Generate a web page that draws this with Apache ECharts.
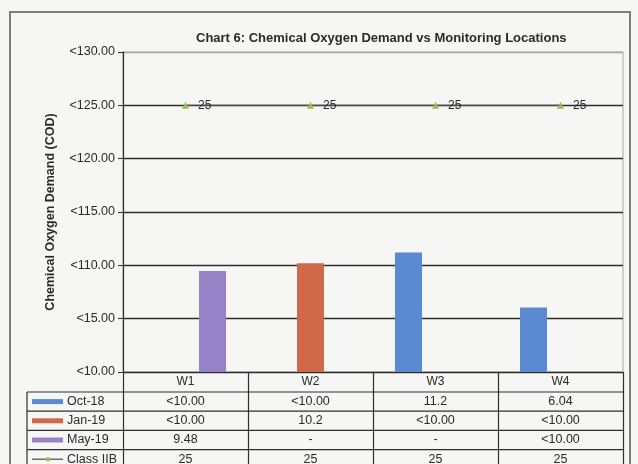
<!DOCTYPE html>
<html>
<head>
<meta charset="utf-8">
<script src="https://cdn.jsdelivr.net/npm/echarts@6/dist/echarts.min.js"></script>
<style>
html,body{margin:0;padding:0;background:#f6f6f4;}
#chart{width:638px;height:464px;}
</style>
</head>
<body>
<div id="chart"></div>
<script>
// ---- data ----
const titleText = 'Chart 6: Chemical Oxygen Demand vs Monitoring Locations';
const yAxisName = 'Chemical Oxygen Demand (COD)';
const categories = ['W1', 'W2', 'W3', 'W4'];
const seriesNames = ['Oct-18', 'Jan-19', 'May-19', 'Class IIB'];
const oct18 = ['<10.00', '<10.00', '11.2', '6.04'];
const jan19 = ['<10.00', '10.2', '<10.00', '<10.00'];
const may19 = ['9.48', '-', '-', '<10.00'];
const classIIB = [25, 25, 25, 25];
const yMin = 0, yMax = 30, yStep = 5;
const yLabelPrefix = '<1';

// ---- styles ----
const FONT = '"Liberation Sans", Arial, sans-serif';
const TXT = '#2a2a2a';
const colors = ['#5b8ad3', '#d0694a', '#9682c6'];
const lineColor = '#4a4a40';
const markerColor = '#9bbb59';

const toNum = s => (typeof s === 'number') ? s : (/^[<\-]/.test(s.trim()) ? null : parseFloat(s));

const chart = echarts.init(document.getElementById('chart'), null, {renderer: 'canvas'});

const barSeries = [oct18, jan19, may19].map((arr, i) => ({
  name: seriesNames[i],
  type: 'bar',
  data: arr.map(toNum),
  barWidth: 27,
  barGap: '0%',
  itemStyle: {color: colors[i]},
  z: 3
}));

const option = {
  backgroundColor: '#f6f6f4',
  animation: false,
  title: {
    text: titleText,
    left: 191, top: 27,
    textStyle: {fontFamily: FONT, fontSize: 13, fontWeight: 'bold', color: TXT}
  },
  grid: {
    left: 123, right: 15, top: 52, bottom: 92,
    show: true, borderColor: '#a8a8a8', borderWidth: 1, backgroundColor: 'transparent'
  },
  xAxis: {
    type: 'category',
    data: categories,
    axisLine: {lineStyle: {color: '#2e2e2e', width: 1.2}},
    axisTick: {show: true, length: 100, lineStyle: {color: '#2e2e2e', width: 1.2}},
    axisLabel: {margin: 4, fontFamily: FONT, fontSize: 12, color: TXT},
    splitLine: {show: false}
  },
  yAxis: {
    type: 'value',
    min: yMin, max: yMax, interval: yStep,
    name: yAxisName,
    nameLocation: 'middle',
    nameGap: 66,
    nameTextStyle: {fontFamily: FONT, fontSize: 12.5, fontWeight: 'bold', color: TXT},
    axisLine: {show: true, lineStyle: {color: '#2e2e2e', width: 1.2}},
    axisTick: {show: true, length: 5, lineStyle: {color: '#2e2e2e'}},
    axisLabel: {
      margin: 8, fontFamily: FONT, fontSize: 12.5, color: TXT,
      formatter: v => yLabelPrefix + v.toFixed(2)
    },
    splitLine: {show: true, lineStyle: {color: ['#2e2e2e', '#2e2e2e', '#2e2e2e', '#2e2e2e', '#2e2e2e', '#2e2e2e', '#a8a8a8'], width: 1.3}}
  },
  series: barSeries.concat([{
    name: seriesNames[3],
    type: 'line',
    data: classIIB,
    symbol: 'triangle',
    symbolSize: 7,
    itemStyle: {color: markerColor},
    lineStyle: {color: lineColor, width: 1.3},
    label: {show: true, position: 'right', distance: 9, fontFamily: FONT, fontSize: 12, color: TXT},
    z: 4
  }])
};

chart.setOption(option);

// ---- data table below the plot (positions from the axis scales) ----
function buildTable() {
  const g = [];
  const y0 = chart.convertToPixel({yAxisIndex: 0}, yMin);
  const xs = categories.map(c => chart.convertToPixel({xAxisIndex: 0}, c));
  const band = xs.length > 1 ? xs[1] - xs[0] : 125;
  const xRight = xs[xs.length - 1] + band / 2;
  const rowH = 19.2;
  const headerH = 20;
  const legLeft = 27;
  const rows = [oct18, jan19, may19, classIIB];
  for (let r = 0; r <= rows.length; r++) {
    const y = y0 + headerH + r * rowH;
    g.push({type: 'line', shape: {x1: legLeft, y1: y, x2: xRight, y2: y}, style: {stroke: '#2e2e2e', lineWidth: 1.2}, silent: true});
  }
  g.push({type: 'line', shape: {x1: legLeft, y1: y0 + headerH, x2: legLeft, y2: 480}, style: {stroke: '#2e2e2e', lineWidth: 1.2}, silent: true});
  rows.forEach((arr, r) => {
    const yc = y0 + headerH + r * rowH + rowH / 2;
    if (r < 3) {
      g.push({type: 'rect', shape: {x: 32, y: yc - 2.5, width: 31, height: 5}, style: {fill: colors[r]}, silent: true});
    } else {
      g.push({type: 'line', shape: {x1: 32, y1: yc, x2: 63, y2: yc}, style: {stroke: lineColor, lineWidth: 1.2}, silent: true});
      g.push({type: 'circle', shape: {cx: 48, cy: yc, r: 2.2}, style: {fill: markerColor}, silent: true});
    }
    g.push({type: 'text', x: 67, y: yc, style: {text: seriesNames[r], font: '12.5px ' + FONT, fill: TXT, textVerticalAlign: 'middle', textAlign: 'left'}, silent: true});
    arr.forEach((v, c) => {
      g.push({type: 'text', x: xs[c], y: yc, style: {text: String(v), font: '12.5px ' + FONT, fill: TXT, textAlign: 'center', textVerticalAlign: 'middle'}, silent: true});
    });
  });
  g.push({type: 'rect', shape: {x: 10, y: 12, width: 620, height: 470}, style: {fill: null, stroke: '#555', lineWidth: 1.5}, silent: true, z: 10});
  chart.setOption({graphic: {elements: g}});
}
buildTable();
</script>
</body>
</html>
